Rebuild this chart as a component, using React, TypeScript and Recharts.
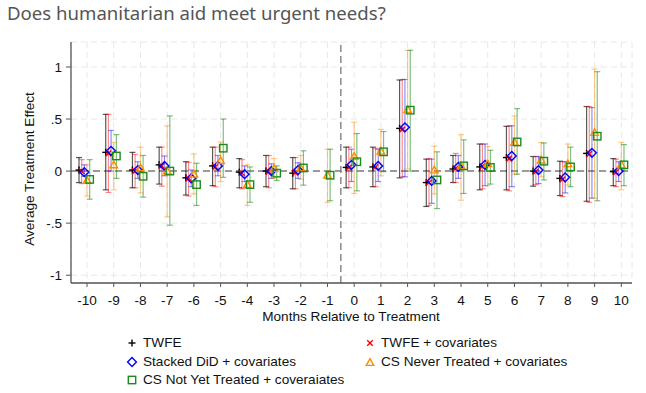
import React from 'react';
import { ComposedChart, Scatter, XAxis, YAxis, CartesianGrid, ReferenceLine, ErrorBar } from 'recharts';

const periods = [-10, -9, -8, -7, -6, -5, -4, -3, -2, -1, 0, 1, 2, 3, 4, 5, 6, 7, 8, 9, 10];
const yTicks = [-1, -0.5, 0, 0.5, 1];
const yTickLabels: Record<string, string> = { '-1': '-1', '-0.5': '-.5', '0': '0', '0.5': '.5', '1': '1' };

const twfeEst = [0.01, 0.18, 0.01, 0.06, -0.065, 0.05, -0.01, 0.0, -0.02, null, 0.035, 0.04, 0.41, -0.11, 0.02, 0.04, 0.13, 0.0, -0.07, 0.17, -0.005];
const twfeLo = [-0.11, -0.18, -0.16, -0.125, -0.23, -0.14, -0.16, -0.15, -0.17, null, -0.16, -0.15, -0.065, -0.34, -0.11, -0.18, -0.18, -0.145, -0.235, -0.29, -0.14];
const twfeHi = [0.13, 0.545, 0.18, 0.23, 0.09, 0.23, 0.12, 0.15, 0.13, null, 0.23, 0.23, 0.875, 0.115, 0.15, 0.26, 0.43, 0.14, 0.095, 0.62, 0.12];

const twfeCovEst = [0.0, 0.17, 0.0, 0.05, -0.07, 0.04, -0.02, -0.005, -0.015, null, 0.035, 0.04, 0.4, -0.11, 0.025, 0.045, 0.12, -0.005, -0.08, 0.165, -0.01];
const twfeCovLo = [-0.12, -0.205, -0.16, -0.145, -0.24, -0.15, -0.17, -0.16, -0.17, null, -0.16, -0.15, -0.055, -0.33, -0.11, -0.17, -0.19, -0.13, -0.245, -0.3, -0.15];
const twfeCovHi = [0.11, 0.545, 0.16, 0.23, 0.085, 0.23, 0.11, 0.15, 0.13, null, 0.23, 0.22, 0.88, 0.12, 0.17, 0.26, 0.435, 0.14, 0.09, 0.62, 0.115];

const stackedEst = [-0.01, 0.195, 0.01, 0.05, -0.07, 0.05, -0.03, 0.0, 0.01, null, 0.06, 0.05, 0.42, -0.095, 0.04, 0.06, 0.145, 0.01, -0.06, 0.175, 0.0];
const stackedLo = [-0.05, 0.0, -0.07, -0.045, -0.15, -0.045, -0.1, -0.07, -0.07, null, -0.1, -0.1, -0.055, -0.31, -0.07, -0.14, -0.15, -0.12, -0.21, -0.26, -0.1];
const stackedHi = [0.06, 0.39, 0.09, 0.145, 0.01, 0.15, 0.05, 0.07, 0.08, null, 0.21, 0.21, 0.88, 0.115, 0.15, 0.26, 0.435, 0.14, 0.09, 0.61, 0.09];

const csNeverEst = [-0.09, 0.06, 0.03, 0.0, -0.03, 0.1, -0.13, 0.025, 0.03, -0.04, 0.14, 0.19, 0.59, 0.01, 0.05, 0.07, 0.275, 0.105, 0.07, 0.37, 0.06];
const csNeverLo = [-0.24, -0.18, -0.21, -0.44, -0.22, -0.1, -0.33, -0.07, -0.08, -0.3, -0.215, -0.045, 0.02, -0.22, -0.28, -0.14, -0.03, -0.055, -0.135, -0.26, -0.18];
const csNeverHi = [0.06, 0.275, 0.23, 0.435, 0.165, 0.28, 0.06, 0.12, 0.15, 0.21, 0.47, 0.4, 1.16, 0.24, 0.35, 0.235, 0.53, 0.275, 0.26, 0.98, 0.275];

const csNotYetEst = [-0.08, 0.145, -0.05, 0.0, -0.13, 0.22, -0.13, -0.02, 0.03, -0.04, 0.09, 0.185, 0.585, -0.085, 0.05, 0.035, 0.28, 0.095, 0.04, 0.335, 0.06];
const csNotYetLo = [-0.27, -0.07, -0.25, -0.52, -0.33, -0.06, -0.3, -0.09, -0.135, -0.285, -0.19, -0.005, 0.0, -0.36, -0.215, -0.125, -0.03, -0.085, -0.15, -0.285, -0.14];
const csNotYetHi = [0.11, 0.35, 0.15, 0.53, 0.075, 0.5, 0.04, 0.05, 0.195, 0.21, 0.36, 0.38, 1.16, 0.185, 0.3, 0.2, 0.6, 0.27, 0.23, 0.955, 0.255];

const seriesNames = [
  'TWFE',
  'TWFE + covariates',
  'Stacked DiD + covariates',
  'CS Never Treated + covariates',
  'CS Not Yet Treated + coveraiates',
];

const build = (est: (number | null)[], lo: (number | null)[], hi: (number | null)[], offset: number) =>
  periods
    .map((p, i) => {
      const e = est[i];
      const l = lo[i];
      const h = hi[i];
      if (e == null || l == null || h == null) return null;
      return { x: p + offset, y: e, err: [e - l, h - e] };
    })
    .filter((d) => d != null) as { x: number; y: number; err: number[] }[];

const twfeData = build(twfeEst, twfeLo, twfeHi, -0.3);
const twfeCovData = build(twfeCovEst, twfeCovLo, twfeCovHi, -0.2);
const stackedData = build(stackedEst, stackedLo, stackedHi, -0.1);
const csNeverData = build(csNeverEst, csNeverLo, csNeverHi, 0.0);
const csNotYetData = build(csNotYetEst, csNotYetLo, csNotYetHi, 0.1);

const BLACK = '#000000';
const RED = '#ff0000';
const BLUE = '#0000ff';
const ORANGE = '#ff8c00';
const GREEN = '#1a8c1a';

const PlusMark = (p: any) => {
  const { cx, cy } = p;
  if (cx == null || cy == null) return null;
  return (
    <g stroke={BLACK} strokeWidth={1.4}>
      <line x1={cx - 3.5} y1={cy} x2={cx + 3.5} y2={cy} />
      <line x1={cx} y1={cy - 3.5} x2={cx} y2={cy + 3.5} />
    </g>
  );
};
const XMark = (p: any) => {
  const { cx, cy } = p;
  if (cx == null || cy == null) return null;
  return (
    <g stroke={RED} strokeWidth={1.4}>
      <line x1={cx - 2.8} y1={cy - 2.8} x2={cx + 2.8} y2={cy + 2.8} />
      <line x1={cx - 2.8} y1={cy + 2.8} x2={cx + 2.8} y2={cy - 2.8} />
    </g>
  );
};
const DiamondMark = (p: any) => {
  const { cx, cy } = p;
  if (cx == null || cy == null) return null;
  const r = 4.4;
  return (
    <polygon
      points={`${cx},${cy - r} ${cx + r},${cy} ${cx},${cy + r} ${cx - r},${cy}`}
      fill="none"
      stroke={BLUE}
      strokeWidth={1.4}
    />
  );
};
const TriangleMark = (p: any) => {
  const { cx, cy } = p;
  if (cx == null || cy == null) return null;
  const r = 3.8;
  return (
    <polygon
      points={`${cx},${cy - r} ${cx + r},${cy + r * 0.75} ${cx - r},${cy + r * 0.75}`}
      fill="none"
      stroke={ORANGE}
      strokeWidth={1.4}
    />
  );
};
const SquareMark = (p: any) => {
  const { cx, cy } = p;
  if (cx == null || cy == null) return null;
  const r = 3.7;
  return <rect x={cx - r} y={cy - r} width={2 * r} height={2 * r} fill="none" stroke={GREEN} strokeWidth={1.4} />;
};

const FONT = '"Liberation Sans", Arial, sans-serif';
const FS = 13.6;

const LegendIcon = ({ kind }: { kind: number }) => {
  const c = 6;
  return (
    <svg width={12} height={12} style={{ display: 'block' }}>
      {kind === 0 && <PlusMark cx={c} cy={c} />}
      {kind === 1 && <XMark cx={c} cy={c} />}
      {kind === 2 && <DiamondMark cx={c} cy={c} />}
      {kind === 3 && <TriangleMark cx={c} cy={c + 0.5} />}
      {kind === 4 && <SquareMark cx={c} cy={c} />}
    </svg>
  );
};

const legendPos = [
  { left: 126, top: 335 },
  { left: 364, top: 335 },
  { left: 126, top: 354 },
  { left: 364, top: 354 },
  { left: 126, top: 372 },
];

export default function App() {
  return (
    <div style={{ position: 'absolute', left: 0, top: 0, width: 646, height: 393, background: '#fff' }}>
      <div
        style={{
          position: 'absolute',
          left: 7,
          top: 1,
          fontFamily: '"Noto Sans", sans-serif',
          fontSize: 18.6,
          color: '#555555',
          whiteSpace: 'nowrap',
          lineHeight: '24px',
        }}
      >
        Does humanitarian aid meet urgent needs?
      </div>
      <div style={{ position: 'absolute', left: 0, top: 0 }}>
        <ComposedChart width={646} height={393} margin={{ top: 42, right: 14, bottom: 85, left: 0 }}>
          <CartesianGrid stroke="#e8e8e8" strokeDasharray="6 4" horizontal={true} vertical={true} />
          <XAxis
            type="number"
            dataKey="x"
            domain={[-10.6, 10.4]}
            ticks={periods}
            interval={0}
            allowDataOverflow
            height={25}
            tickSize={4}
            tickMargin={8}
            axisLine={{ stroke: '#555', strokeWidth: 1.3 }}
            tickLine={{ stroke: '#555', strokeWidth: 1 }}
            tick={{ fill: '#111', fontSize: FS, fontFamily: FONT }}
          />
          <YAxis
            type="number"
            dataKey="y"
            domain={[-1.075, 1.24]}
            ticks={yTicks}
            interval={0}
            allowDataOverflow
            width={71}
            tickSize={5}
            tickMargin={4}
            tickFormatter={(v: number) => yTickLabels[String(v)] ?? String(v)}
            axisLine={{ stroke: '#555', strokeWidth: 1.3 }}
            tickLine={{ stroke: '#555', strokeWidth: 1 }}
            tick={{ fill: '#111', fontSize: FS, fontFamily: FONT }}
          />
          <ReferenceLine y={0} stroke="#9a9a9a" strokeWidth={2} strokeDasharray="7 4" />
          <ReferenceLine x={-0.5} stroke="#8a8a8a" strokeWidth={1.5} strokeDasharray="7 4" />
          <Scatter data={twfeData} isAnimationActive={false} shape={PlusMark} name={seriesNames[0]}>
            <ErrorBar dataKey="err" direction="y" width={3} stroke="#000" strokeOpacity={0.65} strokeWidth={1.2} />
          </Scatter>
          <Scatter data={twfeCovData} isAnimationActive={false} shape={XMark} name={seriesNames[1]}>
            <ErrorBar dataKey="err" direction="y" width={3} stroke={RED} strokeOpacity={0.45} strokeWidth={1.2} />
          </Scatter>
          <Scatter data={stackedData} isAnimationActive={false} shape={DiamondMark} name={seriesNames[2]}>
            <ErrorBar dataKey="err" direction="y" width={3} stroke={BLUE} strokeOpacity={0.45} strokeWidth={1.2} />
          </Scatter>
          <Scatter data={csNeverData} isAnimationActive={false} shape={TriangleMark} name={seriesNames[3]}>
            <ErrorBar dataKey="err" direction="y" width={3} stroke={ORANGE} strokeOpacity={0.45} strokeWidth={1.2} />
          </Scatter>
          <Scatter data={csNotYetData} isAnimationActive={false} shape={SquareMark} name={seriesNames[4]}>
            <ErrorBar dataKey="err" direction="y" width={3} stroke={GREEN} strokeOpacity={0.55} strokeWidth={1.2} />
          </Scatter>
        </ComposedChart>
      </div>
      <svg width={646} height={393} style={{ position: 'absolute', left: 0, top: 0, pointerEvents: 'none' }}>
        <text
          x={0}
          y={0}
          transform="translate(34,169) rotate(-90)"
          textAnchor="middle"
          fontSize={FS}
          fontFamily={FONT}
          fill="#111"
        >
          Average Treatment Effect
        </text>
        <text x={351} y={321} textAnchor="middle" fontSize={FS} fontFamily={FONT} fill="#111">
          Months Relative to Treatment
        </text>
      </svg>
      {seriesNames.map((name, i) => (
        <div
          key={name}
          style={{
            position: 'absolute',
            left: legendPos[i].left,
            top: legendPos[i].top,
            display: 'flex',
            alignItems: 'center',
            fontFamily: FONT,
            fontSize: FS,
            color: '#111',
            whiteSpace: 'nowrap',
            lineHeight: '16px',
          }}
        >
          <LegendIcon kind={i} />
          <span style={{ marginLeft: 5 }}>{name}</span>
        </div>
      ))}
    </div>
  );
}
